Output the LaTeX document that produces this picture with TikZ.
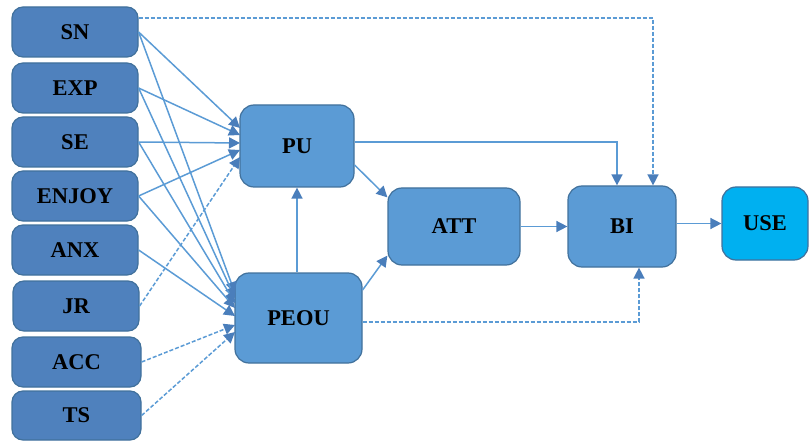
\documentclass[tikz,border=0pt]{standalone}
\usepackage{fontspec}
\setmainfont{Liberation Serif}
\usetikzlibrary{arrows.meta}
\definecolor{leftblue}{HTML}{4F81BD}
\definecolor{midblue}{HTML}{5B9BD5}
\definecolor{useblue}{HTML}{00B0F0}
\definecolor{edgeblue}{HTML}{41719C}
\definecolor{linkblue}{HTML}{5B9BD5}
\definecolor{tipblue}{HTML}{4A7EBB}
\begin{document}
\begin{tikzpicture}[x=1pt,y=-1pt,
 box/.style={draw=edgeblue, line width=1.2pt, rounded corners=11pt, font=\fontsize{22.5}{24}\selectfont\bfseries, inner sep=0pt, text=black},
 lbox/.style={box, fill=leftblue, minimum width=126pt, minimum height=50pt},
 mbox/.style={box, fill=midblue, rounded corners=14pt},
 link/.style={draw=linkblue, line width=1.5pt, -{Triangle[length=11pt,width=11pt,fill=tipblue,color=tipblue]}},
 dlink/.style={link, dash pattern=on 4pt off 2pt},
]
\useasboundingbox (0,0) rectangle (809,441);
% left column
\node[lbox] (SN) at (75,32) {SN};
\node[lbox] (EXP) at (75,88) {EXP};
\node[lbox] (SE) at (75,142) {SE};
\node[lbox] (ENJOY) at (75,196) {ENJOY};
\node[lbox] (ANX) at (75,250) {ANX};
\node[lbox] (JR) at (76,306) {JR};
\node[lbox, minimum width=129pt] (ACC) at (76.5,362) {ACC};
\node[lbox, minimum width=129pt, minimum height=49pt] (TS) at (76.5,415.5) {TS};
% core
\node[mbox, minimum width=114pt, minimum height=82pt] (PU) at (297,146) {PU};
\node[mbox, minimum width=127pt, minimum height=90pt] (PEOU) at (298.5,318) {PEOU};
\node[mbox, minimum width=132pt, minimum height=77pt] (ATT) at (454,226.5) {ATT};
\node[mbox, minimum width=108pt, minimum height=81pt] (BI) at (622,226.5) {BI};
\node[box, fill=useblue, rounded corners=14pt, minimum width=86pt, minimum height=73pt] (USE) at (765,223.5) {USE};
% targets on PU
\coordinate (pu1) at (240,128);
\coordinate (pu2) at (240,135);
\coordinate (pu3) at (240,143);
\coordinate (pu4) at (240,150);
\coordinate (pu5) at (240,157);
% targets on PEOU
\coordinate (pe1) at (235,293);
\coordinate (pe2) at (235,298);
\coordinate (pe3) at (235,303);
\coordinate (pe4) at (235,308);
\coordinate (pe5) at (235,316);
\coordinate (pe6) at (235,325);
\coordinate (pe7) at (235,332);
% left to PU
\draw[link] (SN.east) -- (pu1);
\draw[link] (EXP.east) -- (pu2);
\draw[link] (SE.east) -- (pu3);
\draw[link] (ENJOY.east) -- (pu4);
\draw[dlink] (JR.east) -- (pu5);
% left to PEOU
\draw[link] (SN.east) -- (pe1);
\draw[link] (EXP.east) -- (pe2);
\draw[link] (SE.east) -- (pe3);
\draw[link] (ENJOY.east) -- (pe4);
\draw[link] (ANX.east) -- (pe5);
\draw[dlink] (ACC.east) -- (pe6);
\draw[dlink] (TS.east) -- (pe7);
% core links
\draw[link] (PEOU.north -| PU.south) -- (PU.south);
\draw[link] (PU.east |- 0,165) -- ([yshift=-10pt]ATT.north west);
\draw[link] (PEOU.east |- 0,290) -- ([yshift=10pt]ATT.south west);
\draw[link] (ATT.east) -- (BI.west);
\draw[link] (BI.east |- USE.west) -- (USE.west);
\draw[link] (PU.east |- 0,142) -| ([xshift=-5pt]BI.north);
\draw[dlink] (SN.east |- 0,18) -| ([xshift=31pt]BI.north);
\draw[dlink] (PEOU.east |- 0,322) -| ([xshift=17pt]BI.south);
\end{tikzpicture}
\end{document}
